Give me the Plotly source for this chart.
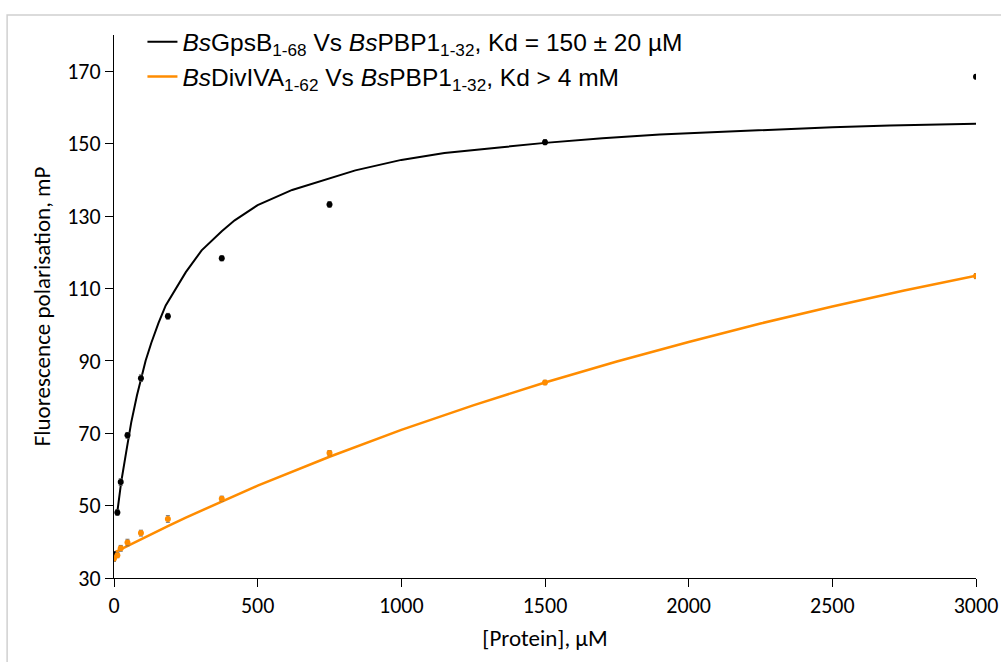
import plotly.graph_objects as go

# Measured fluorescence polarisation (mP) against protein concentration (µM)
conc = [0, 11.7, 23.4, 46.9, 93.75, 187.5, 375, 750, 1500, 3000]
gpsb_fp = [36.5, 48.1, 56.5, 69.4, 85.2, 102.3, 118.3, 133.2, 150.4, 168.5]
divi_fp = [35.4, 36.3, 38.2, 39.8, 42.4, 46.3, 51.9, 64.5, 84.0, 113.4]
gpsb_err = [0.8, 0.8, 0.9, 0.8, 0.9, 0.8, 0.7, 0.8, 0.7, 0.6]
divi_err = [0.8, 0.7, 0.8, 0.9, 0.8, 0.9, 0.7, 0.7, 0.6, 0.7]

# Fitted binding curves
gpsb_fit_x = [12, 25, 45, 60, 80, 95, 110, 130, 155, 180, 215, 250, 305, 375, 420, 500,
              620, 735, 840, 1000, 1150, 1350, 1500, 1700, 1900, 2100, 2300, 2500, 2700,
              2900, 3000]
gpsb_fit_y = [48.5, 56.5, 66.0, 73.0, 80.5, 85.5, 90.0, 95.0, 100.5, 105.3, 110.0, 114.5,
              120.5, 125.8, 128.8, 133.0, 137.2, 140.1, 142.6, 145.5, 147.4, 149.0, 150.2,
              151.5, 152.5, 153.2, 153.9, 154.5, 155.0, 155.4, 155.5]
divi_fit_x = [0, 50, 100, 187.5, 250, 375, 500, 750, 1000, 1250, 1500, 1750, 2000, 2250,
              2500, 2750, 3000]
divi_fit_y = [37.0, 39.0, 41.0, 44.3, 46.7, 51.2, 55.5, 63.5, 70.9, 77.7, 84.0, 89.8, 95.2,
              100.3, 105.0, 109.4, 113.5]

x_ticks = [0, 500, 1000, 1500, 2000, 2500, 3000]
y_ticks = [30, 50, 70, 90, 110, 130, 150, 170]

BLACK = "#000000"
ORANGE = "#FF8C00"
FAMILY = "Carlito, Lato, 'Open Sans', sans-serif"
tick_font = dict(family=FAMILY, size=22, color="#000000")
title_font = dict(family=FAMILY, size=23, color="#000000")

fig = go.Figure()

fig.add_trace(go.Scatter(
    x=gpsb_fit_x, y=gpsb_fit_y, mode="lines",
    line=dict(color=BLACK, width=2),
    name="<i>Bs</i>GpsB<sub>1-68</sub> Vs <i>Bs</i>PBP1<sub>1-32</sub>, Kd = 150 ± 20 µM",
))
fig.add_trace(go.Scatter(
    x=divi_fit_x, y=divi_fit_y, mode="lines",
    line=dict(color=ORANGE, width=2.5),
    name="<i>Bs</i>DivIVA<sub>1-62</sub> Vs <i>Bs</i>PBP1<sub>1-32</sub>, Kd > 4 mM",
))
fig.add_trace(go.Scatter(
    x=conc, y=gpsb_fp, mode="markers", showlegend=False,
    marker=dict(color=BLACK, size=6),
    error_y=dict(type="data", array=gpsb_err, color="#555555", thickness=1, width=2),
))
fig.add_trace(go.Scatter(
    x=conc, y=divi_fp, mode="markers", showlegend=False,
    marker=dict(color=ORANGE, size=6),
    error_y=dict(type="data", array=divi_err, color="#666666", thickness=1, width=2),
))

# light frame around the figure
fig.add_shape(type="rect", xref="paper", yref="paper",
              x0=-0.124, x1=1.06, y0=-0.16, y1=1.037,
              line=dict(color="#d0d0d0", width=1.5), layer="below")

fig.update_layout(
    width=1001, height=662,
    margin=dict(l=114, r=25, t=35, b=84),
    paper_bgcolor="white", plot_bgcolor="white",
    showlegend=True,
    legend=dict(
        x=0.033, y=1.029, xanchor="left", yanchor="top",
        font=dict(family="'Liberation Sans', Arial, sans-serif", size=24.5, color="#000000"),
        bgcolor="rgba(0,0,0,0)", tracegroupgap=0, itemwidth=30,
    ),
    xaxis=dict(
        range=[0, 3000], tickvals=x_ticks, ticks="outside", ticklen=8, tickwidth=1,
        tickcolor="#000000", showline=True, linecolor="#000000", linewidth=1,
        showgrid=False, zeroline=False, tickfont=tick_font, automargin=False,
        title=dict(text="[Protein], µM", font=title_font, standoff=11),
    ),
    yaxis=dict(
        range=[30, 180], tickvals=y_ticks, ticks="outside", ticklen=8, tickwidth=1,
        tickcolor="#000000", showline=True, linecolor="#000000", linewidth=1,
        showgrid=False, zeroline=False, tickfont=tick_font, automargin=False,
        title=dict(text="Fluorescence polarisation, mP", font=title_font, standoff=10),
    ),
)

fig.write_html("out.html")
